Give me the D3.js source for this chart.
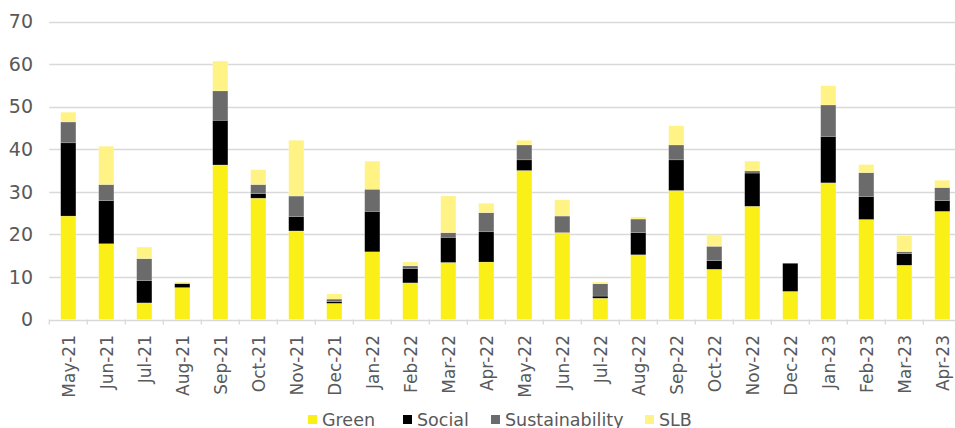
<!DOCTYPE html>
<html>
<head>
<meta charset="utf-8">
<script src="https://cdn.jsdelivr.net/npm/d3@7"></script>
<style>
  html, body { margin: 0; padding: 0; background: #fff; }
  svg { display: block; font-family: "DejaVu Sans", "Liberation Sans", sans-serif; }
</style>
</head>
<body>
<svg id="chart" width="955" height="428"></svg>
<script>
// Monthly issuance by bond type (stacked)
const months = ["May-21","Jun-21","Jul-21","Aug-21","Sep-21","Oct-21","Nov-21","Dec-21",
  "Jan-22","Feb-22","Mar-22","Apr-22","May-22","Jun-22","Jul-22","Aug-22",
  "Sep-22","Oct-22","Nov-22","Dec-22","Jan-23","Feb-23","Mar-23","Apr-23"];
const green          = [24.3,17.8,3.9,7.5,36.3,28.5,20.8,3.8,15.9,8.6,13.4,13.5,35.0,20.4,5.0,15.2,30.3,11.8,26.6,6.6,32.1,23.5,12.75,25.4];
const social         = [17.2,10.1,5.2,0.9,10.5,1.1,3.4,0.4,9.5,3.4,5.9,7.1,2.5,0.0,0.5,5.2,7.2,2.0,7.8,6.6,10.9,5.4,2.75,2.5];
const sustainability = [4.9,3.8,5.2,0.1,6.9,2.1,4.8,0.6,5.2,0.6,1.1,4.5,3.5,3.9,2.9,3.2,3.5,3.4,0.5,0.0,7.4,5.6,0.45,3.1];
const slb            = [2.3,9.0,2.7,0.3,7.0,3.5,13.1,1.2,6.6,0.9,8.6,2.2,1.1,3.8,0.4,0.5,4.5,2.7,2.3,0.0,4.5,1.9,3.75,1.7];
const seriesNames = ["Green","Social","Sustainability","SLB"];
const seriesColors = ["#FAF017","#000000","#6B6B6B","#FFF385"];
const yTicks = [0,10,20,30,40,50,60,70];

const rows = months.map((m, i) => ({
  month: m, Green: green[i], Social: social[i], Sustainability: sustainability[i], SLB: slb[i]
}));

const svg = d3.select("#chart");
const plotLeft = 49.3, plotRight = 961.3, plotTop = 21.5, plotBottom = 319.5;

const x = d3.scaleBand().domain(months).range([plotLeft, plotRight]).paddingInner(0.6).paddingOuter(0.3);
const xTick = d3.scaleBand().domain(months).range([plotLeft, plotRight]);
const y = d3.scaleLinear().domain([0, 70]).range([plotBottom, plotTop]);

// horizontal gridlines
svg.append("g")
  .selectAll("line")
  .data(yTicks)
  .join("line")
  .attr("x1", plotLeft).attr("x2", 955)
  .attr("y1", d => Math.round(y(d)) + 0.5).attr("y2", d => Math.round(y(d)) + 0.5)
  .attr("stroke", "#D9D9D9").attr("stroke-width", 1.3);

// y-axis labels
svg.append("g")
  .selectAll("text")
  .data(yTicks)
  .join("text")
  .attr("x", 33).attr("y", d => y(d))
  .attr("dy", "0.36em")
  .attr("text-anchor", "end")
  .attr("font-size", 19)
  .attr("fill", "#595959")
  .text(d => d);

// stacked bars
const stack = d3.stack().keys(seriesNames);
const layers = stack(rows);
const color = d3.scaleOrdinal().domain(seriesNames).range(seriesColors);

svg.append("g")
  .selectAll("g")
  .data(layers)
  .join("g")
  .attr("fill", d => color(d.key))
  .selectAll("rect")
  .data(d => d)
  .join("rect")
  .attr("x", d => x(d.data.month))
  .attr("width", x.bandwidth())
  .attr("y", d => y(d[1]))
  .attr("height", d => Math.max(0, y(d[0]) - y(d[1])))
  .attr("stroke", "#ffffff")
  .attr("stroke-opacity", 0.35)
  .attr("stroke-width", 0.5);

// tick marks between categories
svg.append("g")
  .selectAll("line")
  .data(d3.range(months.length + 1))
  .join("line")
  .attr("x1", i => plotLeft + i * xTick.step())
  .attr("x2", i => plotLeft + i * xTick.step())
  .attr("y1", plotBottom).attr("y2", plotBottom + 5)
  .attr("stroke", "#D9D9D9").attr("stroke-width", 1.3);

// rotated month labels
svg.append("g")
  .selectAll("text")
  .data(months)
  .join("text")
  .attr("transform", d => `translate(${xTick(d) + xTick.bandwidth() / 2 + 1},335) rotate(-90)`)
  .attr("dy", "0.35em")
  .attr("text-anchor", "end")
  .attr("font-size", 17)
  .attr("fill", "#595959")
  .text(d => d);

// legend
const legendX = [308, 403, 491, 645];
const legend = svg.append("g")
  .selectAll("g")
  .data(seriesNames)
  .join("g")
  .attr("transform", (d, i) => `translate(${legendX[i]},415)`);
legend.append("rect")
  .attr("width", 9).attr("height", 9)
  .attr("fill", d => color(d));
legend.append("text")
  .attr("x", 14).attr("y", 10.5)
  .attr("font-size", 17.5)
  .attr("fill", "#595959")
  .text(d => d);
</script>
</body>
</html>
